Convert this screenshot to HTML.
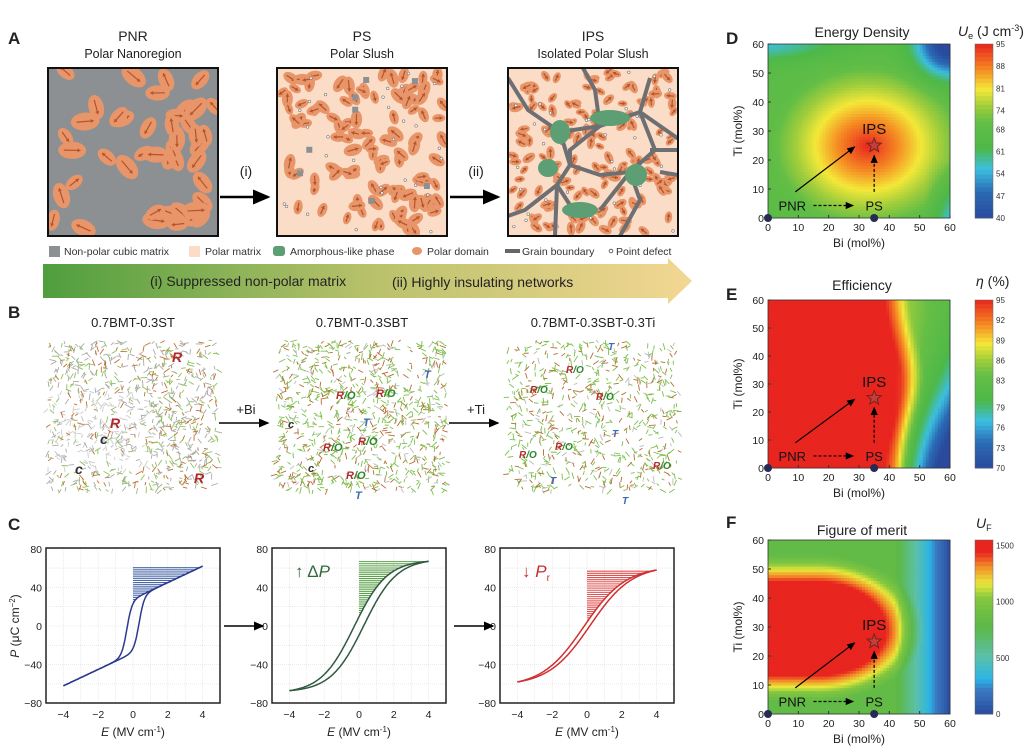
<!DOCTYPE html>
<html><head><meta charset="utf-8"><style>
body{margin:0;background:#fff}
svg text{font-family:"Liberation Sans",Arial,sans-serif}
</style></head><body>
<svg id="s" width="1035" height="748" xmlns="http://www.w3.org/2000/svg">
<defs>
<linearGradient id="bar" x1="0" x2="1"><stop offset="0" stop-color="#4f9e3e"/><stop offset="0.5" stop-color="#b8c16a"/><stop offset="1" stop-color="#f3d793"/></linearGradient>
<marker id="ah" markerWidth="8" markerHeight="8" refX="6" refY="3" orient="auto"><path d="M0,0 L7,3 L0,6 z" fill="#000"/></marker>
<clipPath id="c1"><rect x="48" y="68" width="170" height="168"/></clipPath>
<clipPath id="c2"><rect x="277" y="68" width="170" height="168"/></clipPath>
<clipPath id="c3"><rect x="508" y="68" width="170" height="168"/></clipPath>
</defs>
<g font-size="17" font-weight="bold" fill="#222">
<text x="8" y="44">A</text><text x="8" y="318">B</text><text x="8" y="530">C</text>
<text x="726" y="44">D</text><text x="726" y="300">E</text><text x="726" y="528">F</text>
</g>
<g font-size="14" fill="#222" text-anchor="middle">
<text x="133" y="41">PNR</text><text x="133" y="58" font-size="12.5">Polar Nanoregion</text>
<text x="362" y="41">PS</text><text x="362" y="58" font-size="12.5">Polar Slush</text>
<text x="593" y="41">IPS</text><text x="593" y="58" font-size="12.5">Isolated Polar Slush</text>
<text x="246" y="176">(i)</text><text x="476" y="176">(ii)</text>
</g>
<rect x="48" y="68" width="170" height="168" fill="#8d9093"/>
<rect x="277" y="68" width="170" height="168" fill="#fbdcc6"/>
<rect x="508" y="68" width="170" height="168" fill="#fbdcc6"/>
<g id="A1" clip-path="url(#c1)"></g><g id="A2" clip-path="url(#c2)"></g><g id="A3" clip-path="url(#c3)"></g>
<rect x="48" y="68" width="170" height="168" fill="none" stroke="#111" stroke-width="2"/>
<rect x="277" y="68" width="170" height="168" fill="none" stroke="#111" stroke-width="2"/>
<rect x="508" y="68" width="170" height="168" fill="none" stroke="#111" stroke-width="2"/>
<line x1="220" y1="197" x2="268" y2="197" stroke="#000" stroke-width="2.5" marker-end="url(#ah)"/>
<line x1="450" y1="197" x2="498" y2="197" stroke="#000" stroke-width="2.5" marker-end="url(#ah)"/>
<g font-size="10.5" fill="#333">
<rect x="49" y="246" width="11" height="11" fill="#8d9093"/><text x="64" y="255">Non-polar cubic matrix</text>
<rect x="189" y="246" width="11" height="11" fill="#fbdcc6"/><text x="205" y="255">Polar matrix</text>
<rect x="273" y="246" width="12" height="10" rx="3" fill="#5e9e74"/><text x="290" y="255">Amorphous-like phase</text>
<ellipse cx="417" cy="251" rx="5" ry="4" fill="#e8956a"/><text x="427" y="255">Polar domain</text>
<rect x="505" y="249" width="15" height="4" fill="#666"/><text x="522" y="255">Grain boundary</text>
<circle cx="611" cy="251" r="1.8" fill="none" stroke="#666"/><text x="616" y="255">Point defect</text>
</g>
<path d="M43,264 L668,264 L668,258 L692,281 L668,304 L668,298 L43,298 z" fill="url(#bar)"/>
<text x="150" y="286" font-size="14" fill="#222">(i) Suppressed non-polar matrix</text>
<text x="392" y="287" font-size="14" fill="#222">(ii) Highly insulating networks</text>
<g font-size="13" fill="#222" text-anchor="middle">
<text x="133" y="327">0.7BMT-0.3ST</text><text x="362" y="327">0.7BMT-0.3SBT</text><text x="593" y="327">0.7BMT-0.3SBT-0.3Ti</text>
<text x="246" y="414">+Bi</text><text x="476" y="414">+Ti</text>
</g>
<g id="B"></g>
<line x1="219" y1="423" x2="268" y2="423" stroke="#000" stroke-width="1.5" marker-end="url(#ah)"/>
<line x1="449" y1="423" x2="498" y2="423" stroke="#000" stroke-width="1.5" marker-end="url(#ah)"/>
<g font-size="14" font-style="italic" font-weight="bold">
<text x="172" y="362" fill="#b02a2a">R</text><text x="110" y="428" fill="#b02a2a">R</text><text x="194" y="483" fill="#b02a2a">R</text>
<text x="100" y="444" fill="#333">c</text><text x="75" y="474" fill="#333">c</text>
<text x="288" y="428" fill="#333" font-size="11">c</text><text x="308" y="472" fill="#333" font-size="11">c</text>
<text x="336" y="399" font-size="11"><tspan fill="#b02a2a">R</tspan><tspan fill="#2a8a2a">/O</tspan></text>
<text x="376" y="397" font-size="11"><tspan fill="#b02a2a">R</tspan><tspan fill="#2a8a2a">/O</tspan></text>
<text x="323" y="451" font-size="11"><tspan fill="#b02a2a">R</tspan><tspan fill="#2a8a2a">/O</tspan></text>
<text x="346" y="479" font-size="11"><tspan fill="#b02a2a">R</tspan><tspan fill="#2a8a2a">/O</tspan></text>
<text x="358" y="445" font-size="11"><tspan fill="#b02a2a">R</tspan><tspan fill="#2a8a2a">/O</tspan></text>
<text x="424" y="378" font-size="11" fill="#3a6ab8">T</text><text x="363" y="426" font-size="11" fill="#3a6ab8">T</text><text x="355" y="499" font-size="11" fill="#3a6ab8">T</text>
<text x="566" y="373" font-size="10"><tspan fill="#b02a2a">R</tspan><tspan fill="#2a8a2a">/O</tspan></text>
<text x="530" y="393" font-size="10"><tspan fill="#b02a2a">R</tspan><tspan fill="#2a8a2a">/O</tspan></text>
<text x="596" y="400" font-size="10"><tspan fill="#b02a2a">R</tspan><tspan fill="#2a8a2a">/O</tspan></text>
<text x="555" y="450" font-size="10"><tspan fill="#b02a2a">R</tspan><tspan fill="#2a8a2a">/O</tspan></text>
<text x="519" y="458" font-size="10"><tspan fill="#b02a2a">R</tspan><tspan fill="#2a8a2a">/O</tspan></text>
<text x="653" y="469" font-size="10"><tspan fill="#b02a2a">R</tspan><tspan fill="#2a8a2a">/O</tspan></text>
<text x="608" y="350" font-size="10" fill="#3a6ab8">T</text><text x="612" y="437" font-size="10" fill="#3a6ab8">T</text><text x="550" y="484" font-size="10" fill="#3a6ab8">T</text><text x="622" y="504" font-size="10" fill="#3a6ab8">T</text>
</g>
<g id="C"></g>
<line x1="224" y1="626" x2="263" y2="626" stroke="#000" stroke-width="1.5" marker-end="url(#ah)"/>
<line x1="454" y1="626" x2="493" y2="626" stroke="#000" stroke-width="1.5" marker-end="url(#ah)"/>
<text transform="translate(19,626) rotate(-90)" font-size="12" text-anchor="middle" fill="#222"><tspan font-style="italic">P</tspan> (μC cm<tspan font-size="8" dy="-4">−2</tspan><tspan dy="4">)</tspan></text>
<text x="295" y="577" font-size="17" fill="#2f6a3a">↑ Δ<tspan font-style="italic">P</tspan></text>
<text x="522" y="577" font-size="17" fill="#c03030">↓ <tspan font-style="italic">P</tspan><tspan font-size="10" dy="4">r</tspan></text>
<g id="H"></g>
<g font-size="14" fill="#222" text-anchor="middle">
<text x="862" y="37">Energy Density</text><text x="862" y="290">Efficiency</text><text x="862" y="535">Figure of merit</text>
</g>
<text x="958" y="36" font-size="14" fill="#222"><tspan font-style="italic">U</tspan><tspan font-size="9" dy="3">e</tspan><tspan dy="-3"> (J cm</tspan><tspan font-size="9" dy="-5">-3</tspan><tspan dy="5">)</tspan></text>
<text x="976" y="286" font-size="14" fill="#222"><tspan font-style="italic">η</tspan> (%)</text>
<text x="976" y="528" font-size="14" fill="#222"><tspan font-style="italic">U</tspan><tspan font-size="9" dy="3">F</tspan></text>
</svg>
<script>
var NS="http://www.w3.org/2000/svg";
function el(p,t,a,txt){var e=document.createElementNS(NS,t);for(var k in a)e.setAttribute(k,a[k]);if(txt!==undefined)e.textContent=txt;p.appendChild(e);return e;}
var seed=7;function rnd(){seed=(seed*16807)%2147483647;return seed/2147483647;}
function G(id){return document.getElementById(id);}
function domains(g,x0,n,sz,defects,squares){
 for(var i=0;i<n;i++){var cx=x0+5+rnd()*162,cy=71+rnd()*162,a=rnd()*360,rx=sz*(0.8+rnd()*0.4),ry=rx*0.62;
  var gg=el(g,"g",{transform:"translate("+cx+","+cy+") rotate("+a+")"});
  el(gg,"ellipse",{cx:0,cy:0,rx:rx,ry:ry,fill:"#e8956a"});
  el(gg,"line",{x1:-rx*0.6,y1:0,x2:rx*0.6,y2:0,stroke:"#b5532a","stroke-width":1.2});
  el(gg,"path",{d:"M"+rx*0.6+",0 l-3,-2 l0,4z",fill:"#b5532a"});}
 for(i=0;i<defects;i++)el(g,"circle",{cx:x0+5+rnd()*160,cy:72+rnd()*160,r:1.3,fill:"#fff",stroke:"#777","stroke-width":0.6});
 for(i=0;i<squares;i++)el(g,"rect",{x:x0+10+rnd()*150,y:75+rnd()*150,width:6,height:6,fill:"#8d9093"});
}
domains(G("A1"),48,45,12,0,0);
domains(G("A2"),277,110,8,30,8);
var g3=G("A3");
domains(g3,508,150,6,35,0);
[[508,78,528,110,560,132,570,165,557,185,525,210,508,216],[560,132,600,126,640,112,650,78],[640,112,680,140],[600,126,595,90,583,68],[650,150,680,150],[570,165,570,150,600,126],[570,165,600,175,630,172,655,150,640,112],[630,172,640,200,620,236],[557,185,555,236],[595,208,570,205,557,185],[630,172,600,210],[660,172,678,175]].forEach(function(p){
 var d="M"+p[0]+","+p[1];for(var i=2;i<p.length;i+=2)d+=" L"+p[i]+","+p[i+1];
 el(g3,"path",{d:d,stroke:"#6d6f72","stroke-width":4,fill:"none"});});
[[560,132,10,12],[610,118,20,8],[548,168,10,9],[636,175,11,11],[580,210,18,8]].forEach(function(b){
 el(g3,"ellipse",{cx:b[0],cy:b[1],rx:b[2],ry:b[3],fill:"#5e9e74"});});
var gb=G("B");
[48,277,508].forEach(function(x0,k){
 var n=[1000,1000,750][k];
 for(var i=0;i<n;i++){var x=x0+rnd()*170,y=340+rnd()*150,a=rnd()*Math.PI,l=3+rnd()*4;
  var r=rnd(),c=k==0?(r<0.45?"#aaa":r<0.8?"#8fc05a":"#c07030"):(r<0.15?"#bbb":r<0.75?"#7cbf4a":"#b86a30");
  if(k==0&&x<x0+100&&y>390&&y<470&&rnd()<0.5)c="#ccc";
  el(gb,"line",{x1:x,y1:y,x2:x+l*Math.cos(a),y2:y+l*Math.sin(a),stroke:c,"stroke-width":0.9});}
});
var gc=G("C");
function tanh(x){return Math.tanh(x);}
var plots=[
 {x0:46,col:"#2b3a90",hat:"#4a68a8",f:function(E){return 28*tanh(E/0.3)+8.5*E;},sh:0.35},
 {x0:272,col:"#2f5a40",hat:"#5aa048",f:function(E){return 67*tanh(E/1.9)/tanh(4/1.9);},sh:0.28},
 {x0:500,col:"#d03030",hat:"#e05050",f:function(E){return 58*tanh(E/2.4)/tanh(4/2.4);},sh:0.18}];
plots.forEach(function(p){
 var X=function(E){return p.x0+87+E*17.4;},Y=function(P){return 626-P*0.965;};
 var g=el(gc,"g",{});
 for(var e=-4;e<=4;e+=1)el(g,"line",{x1:X(e),y1:548,x2:X(e),y2:703,stroke:"#ddd","stroke-width":0.6,"stroke-dasharray":"1,1"});
 for(var P=-80;P<=80;P+=20)el(g,"line",{x1:p.x0,y1:Y(P),x2:p.x0+174,y2:Y(P),stroke:"#ddd","stroke-width":0.6,"stroke-dasharray":"1,1"});
 var A=p.f(4);
 var U=function(E){var v=p.f(E-p.sh),a=p.f(-4-p.sh),b=p.f(4-p.sh);return -A+(v-a)/(b-a)*2*A;};
 var D=function(E){var v=p.f(E+p.sh),a=p.f(-4+p.sh),b=p.f(4+p.sh);return -A+(v-a)/(b-a)*2*A;};
 var P0=D(0);
 for(var P=P0;P<=A;P+=2.2){var lo=0,hi=4;for(var it=0;it<30;it++){var m=(lo+hi)/2;if(D(m)<P)lo=m;else hi=m;}
  el(g,"line",{x1:X(0),y1:Y(P),x2:X(lo),y2:Y(P),stroke:p.hat,"stroke-width":1.1});}
 var d1="",d2="";for(var E=-4;E<=4.001;E+=0.05){d1+=(d1?"L":"M")+X(E).toFixed(1)+","+Y(U(E)).toFixed(1);d2+=(d2?"L":"M")+X(E).toFixed(1)+","+Y(D(E)).toFixed(1);}
 el(g,"path",{d:d1,fill:"none",stroke:p.col,"stroke-width":1.5});el(g,"path",{d:d2,fill:"none",stroke:p.col,"stroke-width":1.5});
 el(g,"rect",{x:p.x0,y:548,width:174,height:155,fill:"none",stroke:"#222","stroke-width":1.5});
 [80,40,0,-40,-80].forEach(function(v){el(g,"text",{x:p.x0-4,y:Y(v)+4,"font-size":10.5,"text-anchor":"end",fill:"#222"},v==0?"0":(v<0?"−"+(-v):v));});
 [-4,-2,0,2,4].forEach(function(v){el(g,"text",{x:X(v),y:718,"font-size":10.5,"text-anchor":"middle",fill:"#222"},v<0?"−"+(-v):v);});
 var t=el(g,"text",{x:X(0),y:736,"font-size":12,"text-anchor":"middle",fill:"#222"});
 t.innerHTML='<tspan font-style="italic">E</tspan> (MV cm<tspan font-size="8" dy="-4">-1</tspan><tspan dy="4">)</tspan>';
});
function lerpc(stops,t){t=Math.max(0,Math.min(1,t));for(var i=1;i<stops.length;i++)if(t<=stops[i][0]){var a=stops[i-1],b=stops[i],u=(t-a[0])/(b[0]-a[0]);
 var ca=a[1],cb=b[1];return "rgb("+[0,1,2].map(function(k){return Math.round(ca[k]+(cb[k]-ca[k])*u);}).join(",")+")";}return "rgb(232,37,31)";}
var S1=[[0,[42,74,158]],[0.15,[43,107,181]],[0.28,[60,191,224]],[0.4,[77,184,72]],[0.55,[100,190,70]],[0.64,[160,205,60]],[0.74,[244,232,56]],[0.85,[245,140,35]],[1,[232,37,31]]];
var S3=[[0,[42,74,158]],[0.14,[58,123,196]],[0.2,[43,181,230]],[0.33,[92,192,168]],[0.5,[92,184,72]],[0.66,[130,198,64]],[0.75,[232,232,58]],[0.85,[242,138,40]],[0.93,[232,37,31]],[1,[232,37,31]]];
var gh=G("H");
function heat(y0,y1,fn,vmin,vmax,stops,ticks){
 var x0=768,x1=950,n=60,w=(x1-x0)/n,h=(y1-y0)/n;
 for(var i=0;i<n;i++)for(var j=0;j<n;j++){var x=(i+0.5),y=(j+0.5);
  el(gh,"rect",{x:(x0+i*w).toFixed(2),y:(y1-(j+1)*h).toFixed(2),width:(w+0.4).toFixed(2),height:(h+0.4).toFixed(2),fill:lerpc(stops,(fn(x,y)-vmin)/(vmax-vmin))});}
 el(gh,"rect",{x:x0,y:y0,width:x1-x0,height:y1-y0,fill:"none",stroke:"#333","stroke-width":0.8});
 var X=function(v){return x0+v*(x1-x0)/60;},Y=function(v){return y1-v*(y1-y0)/60;};
 for(var v=0;v<=60;v+=10){el(gh,"text",{x:X(v),y:y1+13,"font-size":10.5,"text-anchor":"middle",fill:"#222"},v);
  el(gh,"text",{x:x0-4,y:Y(v)+4,"font-size":10.5,"text-anchor":"end",fill:"#222"},v);
  el(gh,"line",{x1:X(v),y1:y1,x2:X(v),y2:y1-3,stroke:"#333"});el(gh,"line",{x1:x0,y1:Y(v),x2:x0+3,y2:Y(v),stroke:"#333"});}
 el(gh,"text",{x:(x0+x1)/2,y:y1+29,"font-size":12,"text-anchor":"middle",fill:"#222"},"Bi (mol%)");
 el(gh,"text",{transform:"translate("+(x0-26)+","+((y0+y1)/2)+") rotate(-90)","font-size":12,"text-anchor":"middle",fill:"#222"},"Ti (mol%)");
 el(gh,"line",{x1:X(9),y1:Y(9),x2:X(28.5),y2:Y(24.5),stroke:"#000","stroke-width":1.2,"marker-end":"url(#ah)"});
 el(gh,"line",{x1:X(15),y1:Y(4.3),x2:X(28),y2:Y(4.3),stroke:"#000","stroke-width":1.2,"stroke-dasharray":"3,2","marker-end":"url(#ah)"});
 el(gh,"line",{x1:X(35),y1:Y(9),x2:X(35),y2:Y(21.5),stroke:"#000","stroke-width":1.2,"stroke-dasharray":"3,2","marker-end":"url(#ah)"});
 el(gh,"text",{x:X(8),y:Y(4.3)+5,"font-size":13,"text-anchor":"middle",fill:"#111"},"PNR");
 el(gh,"text",{x:X(35),y:Y(4.3)+5,"font-size":13,"text-anchor":"middle",fill:"#111"},"PS");
 el(gh,"text",{x:X(35),y:Y(29),"font-size":15,"text-anchor":"middle",fill:"#111"},"IPS");
 var cx=X(35),cy=Y(25),pts="";for(var k=0;k<10;k++){var r=k%2?3.2:7.5,a=-Math.PI/2+k*Math.PI/5;pts+=(cx+r*Math.cos(a)).toFixed(1)+","+(cy+r*Math.sin(a)).toFixed(1)+" ";}
 el(gh,"polygon",{points:pts,fill:"#c0403a",stroke:"#7a2020","stroke-width":1});
 el(gh,"circle",{cx:X(0),cy:Y(0),r:4,fill:"#262a55"});el(gh,"circle",{cx:X(35),cy:Y(0),r:4,fill:"#262a55"});
 var bx=975,bw=18,m=40;for(var k=0;k<m;k++)el(gh,"rect",{x:bx,y:(y0+k*(y1-y0)/m).toFixed(2),width:bw,height:((y1-y0)/m+0.5).toFixed(2),fill:lerpc(stops,1-(k+0.5)/m)});
 el(gh,"rect",{x:bx,y:y0,width:bw,height:y1-y0,fill:"none",stroke:"#666","stroke-width":0.5});
 ticks.forEach(function(t){el(gh,"text",{x:bx+bw+3,y:y1-(t-vmin)/(vmax-vmin)*(y1-y0)+3,"font-size":8,fill:"#333"},t);});
}
heat(44,218,function(x,y){var d=Math.sqrt(Math.pow((x-33)/17,2)+Math.pow((y-25)/15,2));var v=d<1.9?95-14*d:68.4-3*(d-1.9);
 v-=Math.exp(-((60-x)*(60-x)+(60-y)*(60-y))/110)*30;v-=Math.exp(-(x*x/600+(60-y)*(60-y)/30))*9;v-=Math.max(0,x-52)*Math.max(0,20-y)/20*1.5;return v;},40,95,S1,[40,47,54,61,68,74,81,88,95]);
heat(300,468,function(x,y){var xb=38+6*Math.exp(-Math.pow((y-30)/20,2));var s=Math.max(0,x-xb);var v=95-Math.min(s,8)*1.2-Math.max(0,s-8)*0.25;
 v-=Math.max(0,x-42)*Math.pow(Math.max(0,1-y/60),1.5)*1.0;return v;},70,95,S1,[70,73,76,79,83,86,89,92,95]);
heat(540,714,function(x,y){var dx=Math.max(0,x-16)/22,dy=(y-29)/(y>29?16:15);var d=Math.sqrt(dx*dx+dy*dy);var v=1550-1100*Math.max(0,d-0.95);
 v=Math.max(v,820);v-=Math.max(0,x-42)*45;return v;},0,1550,S3,[0,500,1000,1500]);
</script>
</body></html>
